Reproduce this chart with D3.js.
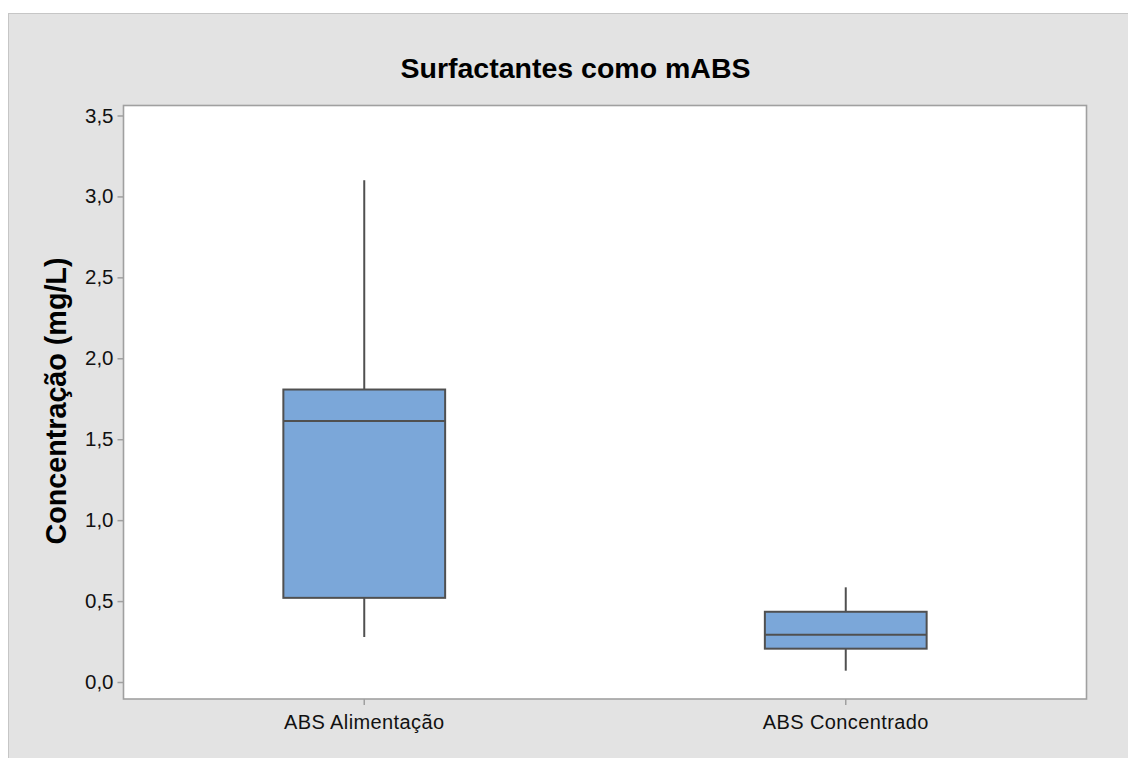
<!DOCTYPE html>
<html><head><meta charset="utf-8">
<script src="https://cdn.jsdelivr.net/npm/d3@7"></script>
<style>
html,body{margin:0;padding:0;background:#fff;}
svg{display:block;}
</style></head>
<body>
<script>
const categories = ["ABS Alimentação", "ABS Concentrado"];
const whiskerLow  = [0.278, 0.07];
const q1Values    = [0.52, 0.206];
const medianValues= [1.613, 0.292];
const q3Values    = [1.807, 0.434];
const whiskerHigh = [3.10, 0.585];
const yTicks = [0, 0.5, 1.0, 1.5, 2.0, 2.5, 3.0, 3.5];
const titleText = "Surfactantes como mABS";
const yLabelText = "Concentração (mg/L)";

const W = 1128, H = 758;
const plot = {left: 123.5, right: 1086.5, top: 105.5, bottom: 699};

const svg = d3.select("body").append("svg").attr("width", W).attr("height", H);
svg.append("rect").attr("x",0).attr("y",0).attr("width",W).attr("height",H).attr("fill","#ffffff");
svg.append("rect").attr("x",8.5).attr("y",13.5).attr("width",W+20).attr("height",H+20)
  .attr("fill","#e3e3e3").attr("stroke","#c6c6c6").attr("stroke-width",1);

const y = d3.scaleLinear().domain([-0.1049, 3.5617]).range([plot.bottom, plot.top]);
const x = d3.scaleBand().domain(categories).range([plot.left, plot.right]).paddingInner(0.664).paddingOuter(0.332);

svg.append("rect").attr("x",plot.left).attr("y",plot.top)
  .attr("width",plot.right-plot.left).attr("height",plot.bottom-plot.top)
  .attr("fill","#ffffff").attr("stroke","#a0a0a0").attr("stroke-width",1.6);

const fmt = d => d.toFixed(1).replace(".", ",");
const yAxis = svg.append("g").attr("transform",`translate(${plot.left},0)`)
  .call(d3.axisLeft(y).tickValues(yTicks).tickFormat(fmt).tickSize(6).tickPadding(4));
yAxis.select(".domain").remove();
yAxis.selectAll(".tick line").attr("stroke","#a0a0a0").attr("stroke-width",1.5);
yAxis.selectAll(".tick text").attr("font-family","'Liberation Sans', Arial, sans-serif")
  .attr("font-size",20.5).attr("fill","#111");

const xAxis = svg.append("g").attr("transform",`translate(0,${plot.bottom})`)
  .call(d3.axisBottom(x).tickSize(6).tickPadding(10));
xAxis.select(".domain").remove();
xAxis.selectAll(".tick line").attr("stroke","#a0a0a0").attr("stroke-width",1.5);
xAxis.selectAll(".tick text").attr("font-family","'Liberation Sans', Arial, sans-serif")
  .attr("font-size",20).attr("letter-spacing","0.4px").attr("fill","#111");

const data = categories.map((c,i)=>({c, lo:whiskerLow[i], q1:q1Values[i], med:medianValues[i], q3:q3Values[i], hi:whiskerHigh[i]}));
const g = svg.append("g");
data.forEach(d=>{
  const cx = x(d.c) + x.bandwidth()/2;
  g.append("line").attr("x1",cx).attr("x2",cx).attr("y1",y(d.q3)).attr("y2",y(d.hi))
    .attr("stroke","#505050").attr("stroke-width",2);
  g.append("line").attr("x1",cx).attr("x2",cx).attr("y1",y(d.q1)).attr("y2",y(d.lo))
    .attr("stroke","#505050").attr("stroke-width",2);
  g.append("rect").attr("x",x(d.c)).attr("y",y(d.q3)).attr("width",x.bandwidth())
    .attr("height",y(d.q1)-y(d.q3)).attr("fill","#7ba7d9").attr("stroke","#505050").attr("stroke-width",2);
  g.append("line").attr("x1",x(d.c)).attr("x2",x(d.c)+x.bandwidth()).attr("y1",y(d.med)).attr("y2",y(d.med))
    .attr("stroke","#505050").attr("stroke-width",2);
});

svg.append("text").attr("x",575.5).attr("y",78).attr("text-anchor","middle")
  .attr("font-family","'Liberation Sans', Arial, sans-serif").attr("font-weight","bold")
  .attr("font-size",28.5).attr("fill","#000").text(titleText);

svg.append("text").attr("transform","translate(66,401) rotate(-90)").attr("text-anchor","middle")
  .attr("font-family","'Liberation Sans', Arial, sans-serif").attr("font-weight","bold")
  .attr("font-size",28.7).attr("fill","#000").text(yLabelText);
</script>
</body></html>
